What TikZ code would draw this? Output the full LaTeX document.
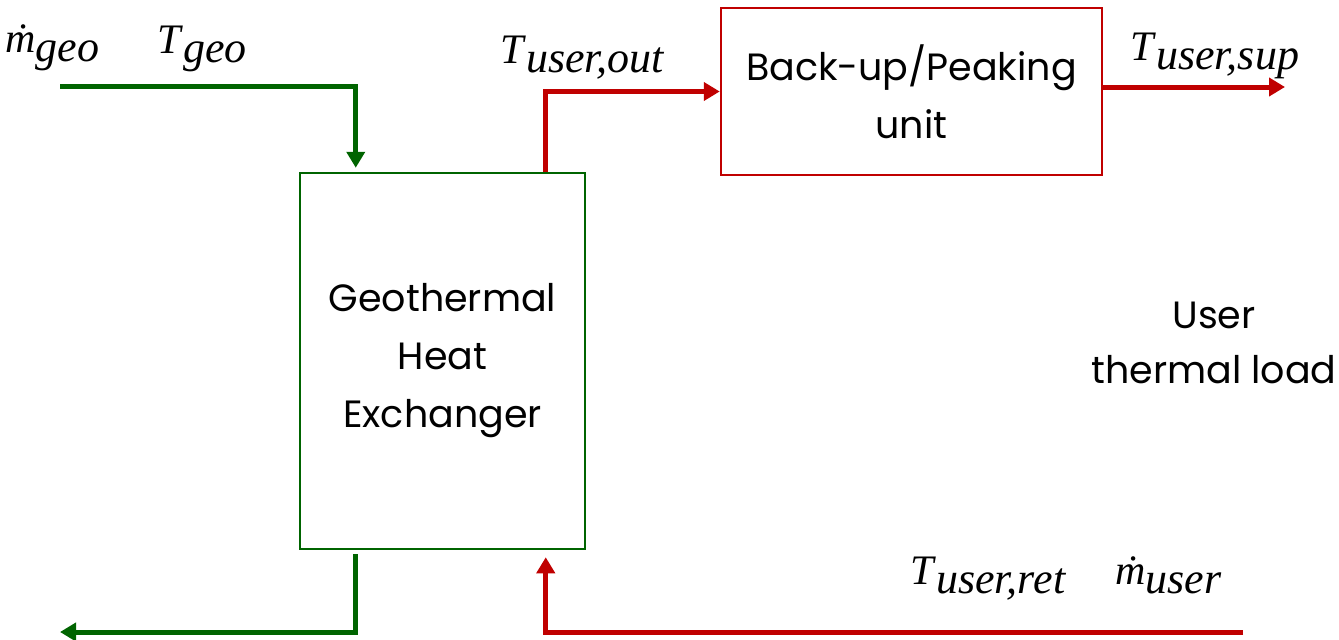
\documentclass[tikz,border=0pt]{standalone}
\usepackage{fontspec}
\setmainfont{Poppins}
\newfontfamily\labfont{Liberation Serif}
\usetikzlibrary{arrows.meta}
\definecolor{geogreen}{RGB}{0,100,0}
\definecolor{userred}{RGB}{192,0,0}
% a flow variable: italic symbol with a lowered italic subscript
\newcommand\flowvar[2]{\textit{#1}\raisebox{-9pt}{\fontsize{44}{46}\selectfont\textit{#2}}}
\tikzset{
  unitbox/.style={draw, line width=2.5pt, align=center, inner sep=0pt,
    font=\fontsize{38}{58}\selectfont},
  flowline/.style={line width=5pt, -{Triangle[length=16pt,width=18pt]}},
  gflow/.style={flowline, draw=geogreen},
  rflow/.style={flowline, draw=userred},
  varlabel/.style={anchor=base west, inner sep=0pt, font=\labfont\fontsize{42}{48}\selectfont},
}
\begin{document}
\begin{tikzpicture}[x=1pt, y=-1pt]
  \useasboundingbox (0,0) rectangle (1339,640);

  % units
  \node[unitbox, draw=geogreen, minimum width=285pt, minimum height=376pt]
    (hx) at (442.5,361) {Geothermal\\Heat\\Exchanger};
  \node[unitbox, draw=userred, minimum width=381pt, minimum height=167pt]
    (bu) at (911.5,91.5) {Back-up/Peaking\\unit};
  \node[align=center, inner sep=0pt, font=\fontsize{38}{55}\selectfont]
    (load) at (1214,343) {User\\thermal load};

  % free ends of the flows
  \coordinate (geoin)  at (60,86);
  \coordinate (geoout) at (60,632);
  \coordinate (supout) at (1285,87);
  \coordinate (retin)  at (1243,632);

  % geothermal side
  \draw[gflow, shorten >=4pt] (geoin) -| ([xshift=57pt]hx.north west);
  \draw[gflow, shorten <=4pt] ([xshift=57pt]hx.south west) |- (geoout);

  % user side
  \draw[rflow] ([xshift=247pt]hx.north west) |- (bu.west);
  \draw[rflow] (bu.east |- supout) -- (supout);
  \draw[rflow, shorten >=7pt] (retin) -| ([xshift=247pt]hx.south west);

  % variables
  \node[varlabel] (mgeo) at (5,52)    {\flowvar{\.m}{geo}};
  \node[varlabel] (tgeo) at (157,53)  {\flowvar{T}{geo}};
  \node[varlabel] (tout) at (500,63)  {\flowvar{T}{user,out}};
  \node[varlabel] (tsup) at (1130,60) {\flowvar{T}{user,sup}};
  \node[varlabel] (tret) at (910,584) {\flowvar{T}{user,ret}};
  \node[varlabel] (muser) at (1115,584) {\flowvar{\.m}{user}};
\end{tikzpicture}
\end{document}
